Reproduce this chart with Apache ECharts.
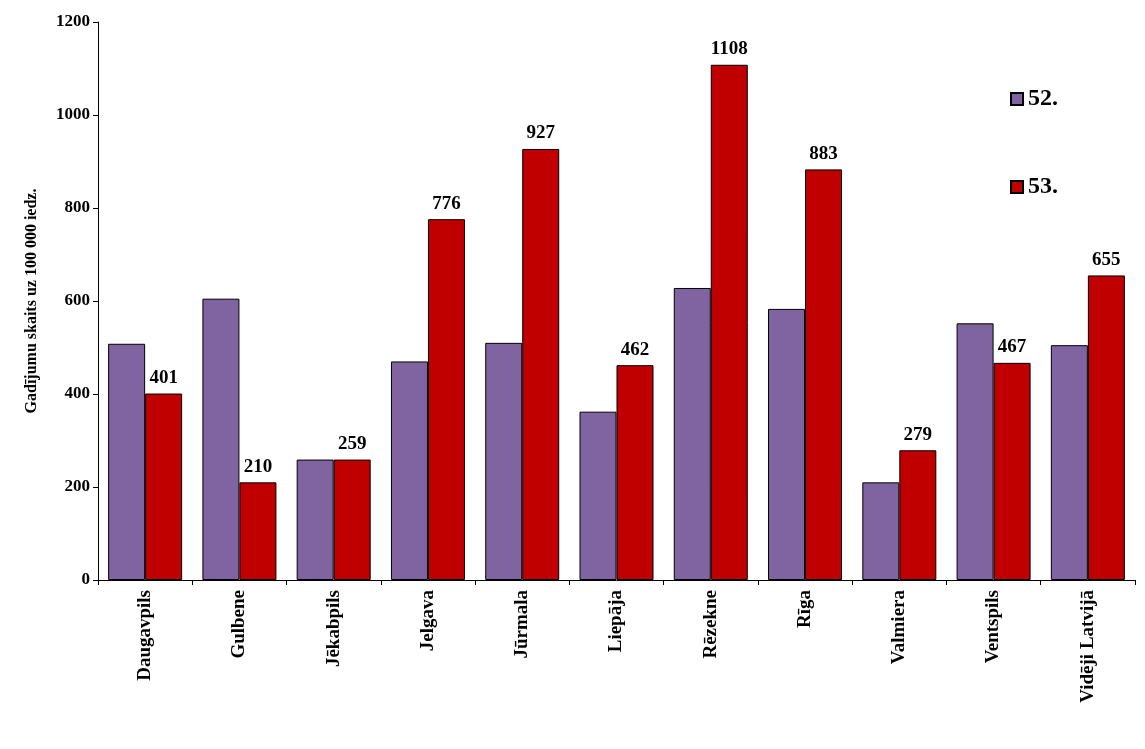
<!DOCTYPE html>
<html>
<head>
<meta charset="utf-8">
<script src="https://cdn.jsdelivr.net/npm/echarts@6/dist/echarts.min.js"></script>
<style>
    html, body { margin: 0; padding: 0; background: #fff; }
    #chart { width: 1145px; height: 749px; }
</style>
</head>
<body>
<div id="chart"></div>
<script>
const categories = ['Daugavpils', 'Gulbene', 'Jēkabpils', 'Jelgava', 'Jūrmala', 'Liepāja', 'Rēzekne', 'Rīga', 'Valmiera', 'Ventspils', 'Vidēji Latvijā'];
const week52 = [508, 605, 259, 470, 510, 362, 628, 583, 210, 552, 505];
const week53 = [401, 210, 259, 776, 927, 462, 1108, 883, 279, 467, 655];

const font = '"Liberation Serif", "Times New Roman", serif';
const chart = echarts.init(document.getElementById('chart'));

chart.setOption({
    animation: false,
    textStyle: { fontFamily: font },
    grid: { left: 98, right: 10, top: 22, bottom: 169 },
    legend: {
        orient: 'vertical', left: 1005, top: 82, itemGap: 64,
        itemWidth: 12, itemHeight: 12, icon: 'rect',
        textStyle: { fontFamily: font, fontSize: 24, fontWeight: 'bold', color: '#000' },
        data: ['52.', '53.']
    },
    xAxis: {
        type: 'category', data: categories,
        axisLine: { lineStyle: { color: '#000' } },
        axisTick: { show: true, length: 5, lineStyle: { color: '#000' } },
        axisLabel: { rotate: 90, interval: 0, color: '#000', fontSize: 19, fontWeight: 'bold', fontFamily: font, margin: 10 }
    },
    yAxis: {
        type: 'value', min: 0, max: 1200, interval: 200,
        name: 'Gadījumu skaits uz 100 000 iedz.', nameLocation: 'middle', nameGap: 58,
        nameTextStyle: { color: '#000', fontSize: 16, fontWeight: 'bold', fontFamily: font },
        axisLine: { show: true, lineStyle: { color: '#000' } },
        axisTick: { show: true, length: 5, lineStyle: { color: '#000' } },
        splitLine: { show: false },
        axisLabel: { color: '#000', fontSize: 17, fontWeight: 'bold', fontFamily: font, formatter: v => String(v) }
    },
    series: [
        {
            name: '52.', type: 'bar', data: week52, barWidth: 37, barGap: '0%',
            itemStyle: { color: '#8064a2', borderColor: '#000', borderWidth: 1 }
        },
        {
            name: '53.', type: 'bar', data: week53, barWidth: 37,
            itemStyle: { color: '#c00000', borderColor: '#000', borderWidth: 1 },
            label: { show: true, position: 'top', color: '#000', fontSize: 19, fontWeight: 'bold', fontFamily: font, distance: 6 }
        }
    ]
});
</script>
</body>
</html>
